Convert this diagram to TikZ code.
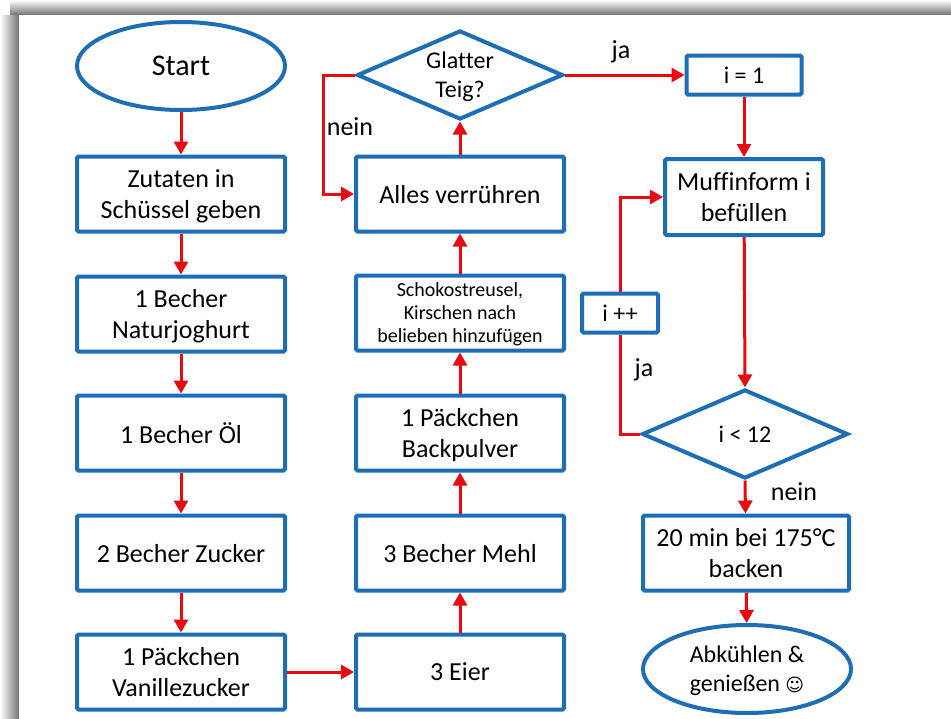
\documentclass[tikz,border=0pt]{standalone}
\usepackage{fontspec}
\setmainfont{Carlito}[Ligatures=NoCommon]
\newfontfamily\smileyfont{DejaVu Sans}
\usepackage[dvipsnames]{xcolor}
\usetikzlibrary{
  arrows.meta,
  shapes
}
\definecolor{rahmenblau}{RGB}{30,110,182}
\definecolor{pfeilrot}{RGB}{232,10,16}

\begin{document}
\begin{tikzpicture}[
  x=1pt, y=-1pt,
  every node/.style = {align=center, inner sep=0pt, text depth=0pt,
    font=\fontsize{26}{31}\selectfont},
  box/.style = {shape=rectangle, draw=rahmenblau, line width=4pt,
    rounded corners=1.5pt, fill=white,
    minimum width=208pt, minimum height=75pt},
  terminal/.style = {shape=ellipse, draw=rahmenblau, line width=4pt,
    fill=white, minimum width=208pt, minimum height=88pt},
  frage/.style = {shape=diamond, draw=rahmenblau, line width=4pt,
    fill=white, aspect=2.3, minimum width=206pt, minimum height=89pt},
  flow/.style = {draw=pfeilrot, line width=3pt,
    -{Triangle[length=13pt,width=14pt]}},
  linie/.style = {draw=pfeilrot, line width=3pt}]
  \useasboundingbox (0,0) rectangle (951,718);
  \shade[top color=white, bottom color=black!55] (10,0) rectangle (951,15);
  \shade[left color=white, right color=black!55] (0,15) rectangle (19,718);
  \fill[white] (19,15) rectangle (951,718);

  \node[terminal, font=\fontsize{30}{36}\selectfont] (start) at (181,66) {Start};
  \node[box] (zutaten) at (181,194) {Zutaten in\\Schüssel geben};
  \node[box] (joghurt) at (181,314) {1 Becher\\Naturjoghurt};
  \node[box] (oel) at (181,433) {1 Becher Öl};
  \node[box] (zucker) at (181,553) {2 Becher Zucker};
  \node[box] (vanille) at (181,672) {1 Päckchen\\Vanillezucker};

  \node[box] (eier) at (460,672) {3 Eier};
  \node[box] (mehl) at (460,553) {3 Becher Mehl};
  \node[box] (backpulver) at (460,433) {1 Päckchen\\Backpulver};
  \node[box, font=\fontsize{20}{23}\selectfont] (schoko) at (460,313)
    {Schokostreusel,\\Kirschen nach\\belieben hinzufügen};
  \node[box] (verruehren) at (460,194) {Alles verrühren};
  \node[frage, font=\fontsize{24}{29}\selectfont] (glatt) at (460,75)
    {Glatter\\Teig?};

  \node[box, minimum width=115pt, minimum height=39pt,
    font=\fontsize{24}{29}\selectfont] (eins) at (744,75) {i = 1};
  \node[box, minimum width=158pt, minimum height=76pt] (muffin) at (744,197)
    {Muffinform i\\befüllen};
  \node[box, minimum width=76pt, minimum height=39pt,
    font=\fontsize{24}{29}\selectfont] (iplus) at (620,313) {i ++};
  \node[frage, font=\fontsize{24}{29}\selectfont] (kleiner) at (745,434) {i < 12};
  \node[box, minimum width=206pt] (backen) at (746,553) {20 min bei 175°C\\backen};
  \node[terminal, font=\fontsize{24}{29}\selectfont] (ende) at (747,669)
    {Abkühlen \&\\genießen {\smileyfont\fontsize{18}{18}\selectfont ☺}};

  \coordinate (neinknick) at (323,75);
  \coordinate (jaknick) at (620,434);

  \draw[flow] (start) -- (zutaten);
  \draw[flow] (zutaten) -- (joghurt);
  \draw[flow] (joghurt) -- (oel);
  \draw[flow] (oel) -- (zucker);
  \draw[flow] (zucker) -- (vanille);
  \draw[flow] (vanille) -- (eier);
  \draw[flow] (eier) -- (mehl);
  \draw[flow] (mehl) -- (backpulver);
  \draw[flow] (backpulver) -- (schoko);
  \draw[flow] (schoko) -- (verruehren);
  \draw[flow] (verruehren) -- (glatt);
  \draw[flow] (glatt.west) -- (neinknick) |- (verruehren.west);
  \draw[flow] (glatt.east) -- (eins.west);
  \draw[flow] (eins) -- (muffin);
  \draw[flow] (muffin) -- (kleiner.north);
  \draw[linie] (kleiner.west) -- (jaknick) -- (iplus.south);
  \draw[flow] (iplus.north) |- (muffin.west);
  \draw[flow] (kleiner.south) -- (backen);
  \draw[flow] (backen) -- (ende);

  \node (neinlinks) at (350,127) {nein};
  \node (jaoben) at (621,50) {ja};
  \node (jalinks) at (644,368) {ja};
  \node (neinunten) at (794,492) {nein};
\end{tikzpicture}
\end{document}
